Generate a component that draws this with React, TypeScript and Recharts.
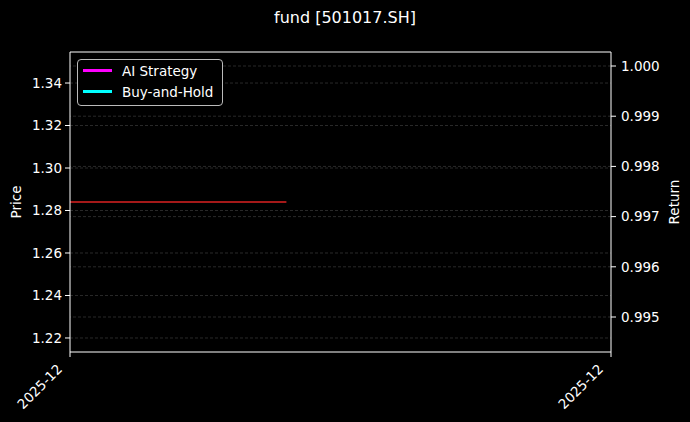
import React from 'react';
import { ComposedChart, Line, XAxis, YAxis, ReferenceLine, Legend } from 'recharts';

// daily rows, December 2025
const dates = ['2025-12-01', '2025-12-02', '2025-12-03', '2025-12-04', '2025-12-05', '2025-12-06'];
const priceValues = [1.284, 1.284, 1.284, null, null, null];
const aiStrategyValues = [null, null, null, null, null, null];
const buyHoldValues = [null, null, null, null, null, null];

const priceTicks = [1.22, 1.24, 1.26, 1.28, 1.30, 1.32, 1.34];
const returnTicks = [0.995, 0.996, 0.997, 0.998, 0.999, 1.0];
const priceDomain = [1.2134, 1.3546];
const returnDomain = [0.994303, 1.000279];

const toTime = (d: string) => new Date(d + 'T00:00:00Z').getTime();

const chartData = dates.map((d, i) => ({
  t: toTime(d),
  price: priceValues[i],
  ai: aiStrategyValues[i],
  bh: buyHoldValues[i],
}));

const xDomain = [toTime(dates[0]), toTime(dates[dates.length - 1])];

const FONT = '"DejaVu Sans", sans-serif';
const GRID = '#333333';

const fmtMonth = (v: number) => {
  const d = new Date(v);
  return `${d.getUTCFullYear()}-${String(d.getUTCMonth() + 1).padStart(2, '0')}`;
};

const RotatedTick = ({ x, y, payload }: any) => (
  <text
    x={x - 7}
    y={y + 11}
    textAnchor="end"
    fill="#fff"
    fontSize={13.5}
    fontFamily={FONT}
    transform={`rotate(-45, ${x - 7}, ${y + 11})`}
  >
    {fmtMonth(payload.value)}
  </text>
);

const LegendBox = ({ payload }: any) => (
  <div
    style={{
      border: '1px solid #bbb',
      borderRadius: 4,
      background: '#000',
      padding: '0px 9px 3px 5px',
      fontFamily: FONT,
      fontSize: 13.5,
      color: '#fff',
    }}
  >
    {(payload || [])
      .filter((p: any) => p.value !== 'Price')
      .map((p: any) => (
        <div key={p.value} style={{ display: 'flex', alignItems: 'center', height: 21 }}>
          <span style={{ display: 'inline-block', width: 29, height: 2.5, background: p.color, marginRight: 10 }} />
          <span>{p.value}</span>
        </div>
      ))}
  </div>
);

export default function App() {
  return (
    <div style={{ position: 'absolute', left: 0, top: 0, width: 690, height: 422, background: '#000', overflow: 'hidden' }}>
      <div
        style={{
          position: 'absolute', left: 0, width: 690, top: 8, textAlign: 'center',
          color: '#fff', fontFamily: FONT, fontSize: 16,
        }}
      >
        fund [501017.SH]
      </div>
      <div
        style={{
          position: 'absolute', left: 16, top: 202, color: '#fff', fontFamily: FONT, fontSize: 13.5,
          transform: 'translate(-50%, -50%) rotate(-90deg)', whiteSpace: 'nowrap',
        }}
      >
        Price
      </div>
      <div
        style={{
          position: 'absolute', left: 674, top: 202, color: '#fff', fontFamily: FONT, fontSize: 13.5,
          transform: 'translate(-50%, -50%) rotate(-90deg)', whiteSpace: 'nowrap',
        }}
      >
        Return
      </div>
      <ComposedChart width={690} height={422} data={chartData} margin={{ top: 52, right: 0, bottom: 0, left: 0 }}>
        {priceTicks.map((v) => (
          <ReferenceLine key={`pg-${v}`} yAxisId="left" y={v} stroke={GRID} strokeWidth={0.8} strokeDasharray="3 2" />
        ))}
        {returnTicks.map((v) => (
          <ReferenceLine key={`rg-${v}`} yAxisId="right" y={v} stroke={GRID} strokeWidth={0.8} strokeDasharray="3 2" />
        ))}
        <XAxis
          dataKey="t"
          type="number"
          domain={xDomain}
          ticks={xDomain}
          height={70}
          stroke="#fff"
          tickSize={5}
          tick={<RotatedTick />}
          interval={0}
        />
        <YAxis
          yAxisId="left"
          orientation="left"
          width={70}
          domain={priceDomain}
          ticks={priceTicks}
          allowDataOverflow
          stroke="#fff"
          tickSize={5}
          tickMargin={3}
          tick={{ fill: '#fff', fontSize: 13.5, fontFamily: FONT }}
          tickFormatter={(v: number) => v.toFixed(2)}
        />
        <YAxis
          yAxisId="right"
          orientation="right"
          width={79}
          domain={returnDomain}
          ticks={returnTicks}
          allowDataOverflow
          stroke="#fff"
          tickSize={5}
          tickMargin={5}
          tick={{ fill: '#fff', fontSize: 13.5, fontFamily: FONT }}
          tickFormatter={(v: number) => v.toFixed(3)}
        />
        <ReferenceLine yAxisId="left" y={priceDomain[1]} stroke="#fff" strokeWidth={1} />
        <Line yAxisId="left" dataKey="price" name="Price" stroke="#dd2222" strokeWidth={1.5} dot={false} isAnimationActive={false} legendType="none" />
        <Line yAxisId="right" dataKey="ai" name="AI Strategy" stroke="#ff00ff" strokeWidth={2} dot={false} isAnimationActive={false} />
        <Line yAxisId="right" dataKey="bh" name="Buy-and-Hold" stroke="#00ffff" strokeWidth={2} dot={false} isAnimationActive={false} />
        <Legend
          layout="vertical"
          align="center"
          verticalAlign="middle"
          content={<LegendBox />}
          wrapperStyle={{ left: 77, top: 59, width: 'auto', height: 'auto' }}
        />
      </ComposedChart>
    </div>
  );
}
